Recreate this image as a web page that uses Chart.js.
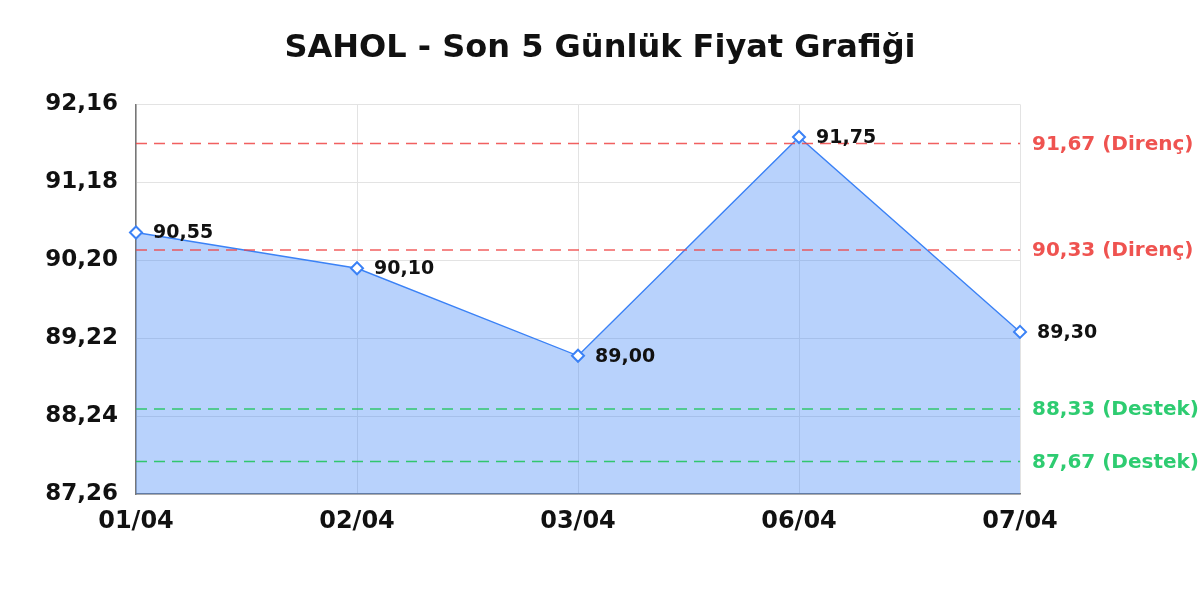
<!DOCTYPE html>
<html>
<head>
<meta charset="utf-8">
<script src="https://cdn.jsdelivr.net/npm/chart.js@4/dist/chart.umd.min.js"></script>
<style>
  html, body { margin: 0; padding: 0; background: #fff; }
  #wrap { width: 1200px; height: 600px; }
</style>
</head>
<body>
<div id="wrap"><canvas id="priceChart"></canvas></div>
<script>
// ---------------- DATA ----------------
const labels = ["01/04", "02/04", "03/04", "06/04", "07/04"];
const prices = [90.55, 90.10, 89.00, 91.75, 89.30];
const yTicks = [87.26, 88.24, 89.22, 90.20, 91.18, 92.16];
const resistance = [91.67, 90.33];
const support = [88.33, 87.67];

const fmt = v => v.toFixed(2).replace(".", ",");

// ---------------- LEVEL LINES + POINT LABELS ----------------
const levelPlugin = {
  id: "levels",
  afterDatasetsDraw(chart) {
    const { ctx, chartArea, scales } = chart;
    const y = scales.y;
    const levels = [
      ...resistance.map(v => ({ v, color: "rgba(239,68,68,0.85)", text: fmt(v) + " (Direnç)", tc: "#ef5350" })),
      ...support.map(v => ({ v, color: "rgba(34,197,94,0.9)", text: fmt(v) + " (Destek)", tc: "#2ecc71" })),
    ];
    ctx.save();
    levels.forEach(l => {
      const py = y.getPixelForValue(l.v);
      ctx.beginPath();
      ctx.setLineDash([11, 7]);
      ctx.lineWidth = 1.5;
      ctx.strokeStyle = l.color;
      ctx.moveTo(chartArea.left, py);
      ctx.lineTo(chartArea.right, py);
      ctx.stroke();
      ctx.setLineDash([]);
      ctx.fillStyle = l.tc;
      ctx.font = "bold 20px 'DejaVu Sans'";
      ctx.textAlign = "left";
      ctx.textBaseline = "middle";
      ctx.fillText(l.text, chartArea.right + 12, py + 1);
    });

    // point value labels
    const meta = chart.getDatasetMeta(0);
    ctx.fillStyle = "#111";
    ctx.font = "bold 19px 'DejaVu Sans'";
    meta.data.forEach((pt, i) => {
      ctx.fillText(fmt(prices[i]), pt.x + 17, pt.y + 1);
    });
    ctx.restore();
  }
};

// ---------------- CHART ----------------
new Chart(document.getElementById("priceChart"), {
  type: "line",
  data: {
    labels: labels,
    datasets: [{
      data: prices,
      borderColor: "#3b82f6",
      borderWidth: 1.4,
      backgroundColor: "rgba(59,130,246,0.36)",
      fill: "start",
      tension: 0,
      pointStyle: "rectRot",
      pointRadius: 6,
      pointBorderWidth: 2,
      pointBackgroundColor: "#fff",
      pointBorderColor: "#3b82f6",
    }]
  },
  options: {
    responsive: true,
    maintainAspectRatio: false,
    animation: false,
    layout: { padding: { left: 0, right: 0, top: 0, bottom: 51 } },
    plugins: {
      legend: { display: false },
      tooltip: { enabled: false },
      title: {
        display: true,
        text: "SAHOL - Son 5 Günlük Fiyat Grafiği",
        color: "#111",
        font: { family: "DejaVu Sans", size: 32, weight: "bold" },
        padding: { top: 29, bottom: 37 },
      },
    },
    scales: {
      x: {
        offset: false,
        grid: { color: "#e3e3e3", drawTicks: false },
        border: { color: "#777", width: 1.5 },
        ticks: {
          color: "#111",
          padding: 13,
          maxRotation: 0,
          font: { family: "DejaVu Sans", size: 24, weight: "bold" },
        },
      },
      y: {
        min: yTicks[0],
        max: yTicks[yTicks.length - 1],
        afterBuildTicks: s => { s.ticks = yTicks.map(v => ({ value: v })); },
        afterFit: s => { s.width = 136; },
        grid: { color: "#e3e3e3", drawTicks: false },
        border: { color: "#777", width: 1.5 },
        ticks: {
          color: "#111",
          padding: 18,
          callback: v => fmt(v),
          font: { family: "DejaVu Sans", size: 23, weight: "bold" },
        },
      },
      yR: {
        position: "right",
        display: true,
        grid: { display: false, drawTicks: false },
        border: { display: false },
        ticks: { display: false },
        afterFit: s => { s.width = 180; },
      },
    },
  },
  plugins: [levelPlugin],
});
</script>
</body>
</html>
